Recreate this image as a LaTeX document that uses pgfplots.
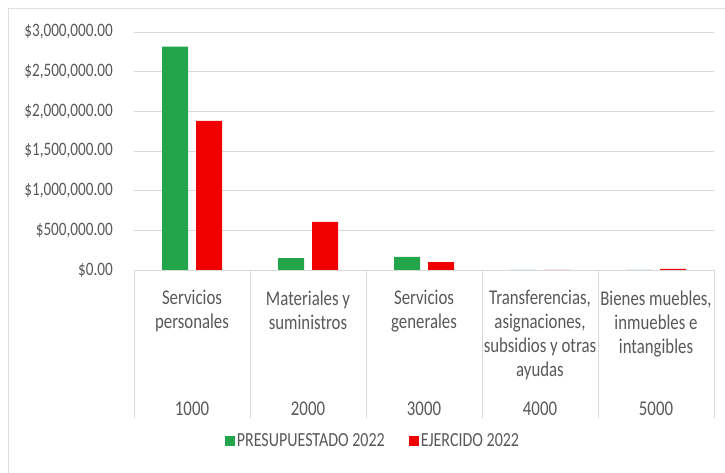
\documentclass[border=0pt]{standalone}
\usepackage{fontspec}
\setmainfont{Carlito}[FakeStretch=0.8]
\usepackage{pgfplots}
\pgfplotsset{compat=1.18}
\definecolor{txt}{HTML}{595959}
\definecolor{grd}{HTML}{D9D9D9}
\definecolor{gbar}{RGB}{35,165,75}
\definecolor{rbar}{RGB}{240,0,0}
\newcommand{\cat}[2]{\parbox[t][125pt][t]{114pt}{\centering\fontsize{21}{24}\selectfont #1\par\vfill #2}}
\begin{document}
\begin{tikzpicture}
\useasboundingbox (0,0) rectangle (725pt,473pt);
\fill[white] (0,0) rectangle (725pt,473pt);
\draw[black!12, line width=1pt] (8pt,-2pt) -- (8pt,464pt) -- (727pt,464pt);
\begin{axis}[
  at={(134pt,203pt)}, anchor=south west,
  scale only axis, width=580pt, height=238pt,
  ybar=8pt, bar width=26pt,
  xmin=0.5, xmax=5.5, ymin=0, ymax=3000000,
  axis x line*=bottom, axis y line*=left,
  x axis line style={draw=grd, line width=0.8pt, -},
  y axis line style={draw=none},
  ymajorgrids, grid style={draw=grd, line width=0.8pt},
  ytick={0,500000,1000000,1500000,2000000,2500000,3000000},
  yticklabels={{\$0.00},{\$500,000.00},{\$1,000,000.00},{\$1,500,000.00},{\$2,000,000.00},{\$2,500,000.00},{\$3,000,000.00}},
  scaled y ticks=false,
  yticklabel style={anchor=east, inner sep=0pt, xshift=-21pt, font=\fontsize{19}{22}\selectfont, text=txt},
  ytick style={draw=none},
  xtick={1,2,3,4,5},
  xticklabels={{\cat{Servicios\\personales}{1000}},{\cat{Materiales y\\suministros}{2000}},{\cat{Servicios\\generales}{3000}},{\cat{Transferencias,\\asignaciones,\\subsidios y otras\\ayudas}{4000}},{\cat{Bienes muebles,\\inmuebles e\\intangibles}{5000}}},
  xticklabel style={anchor=north, inner sep=0pt, yshift=-16pt, text=txt},
  xtick style={draw=none},
  legend style={at={(0.412,-0.7185)}, anchor=center, draw=none, fill=none,
    legend columns=2, font=\fontsize{20}{22}\selectfont, text=txt,
    /tikz/every even column/.append style={column sep=22pt},
    nodes={inner sep=2pt}},
  clip=false,
]
\addplot[fill=gbar, draw=none, legend image code/.code={\fill[gbar] (0pt,-5pt) rectangle (10pt,5pt);}]
  coordinates {(1,2815000) (2,150000) (3,165000) (4,0) (5,0)};
\addplot[fill=rbar, draw=none, legend image code/.code={\fill[rbar] (0pt,-5pt) rectangle (10pt,5pt);}]
  coordinates {(1,1880000) (2,607000) (3,100000) (4,0) (5,15000)};
\legend{PRESUPUESTADO 2022, EJERCIDO 2022}
\foreach \xx in {0.5,1.5,2.5,3.5,4.5,5.5}{
  \edef\tmp{\noexpand\draw[grd, line width=0.8pt] (axis cs:\xx,0) -- ++(0pt,-148pt);}\tmp
}
\end{axis}
\end{tikzpicture}
\end{document}
